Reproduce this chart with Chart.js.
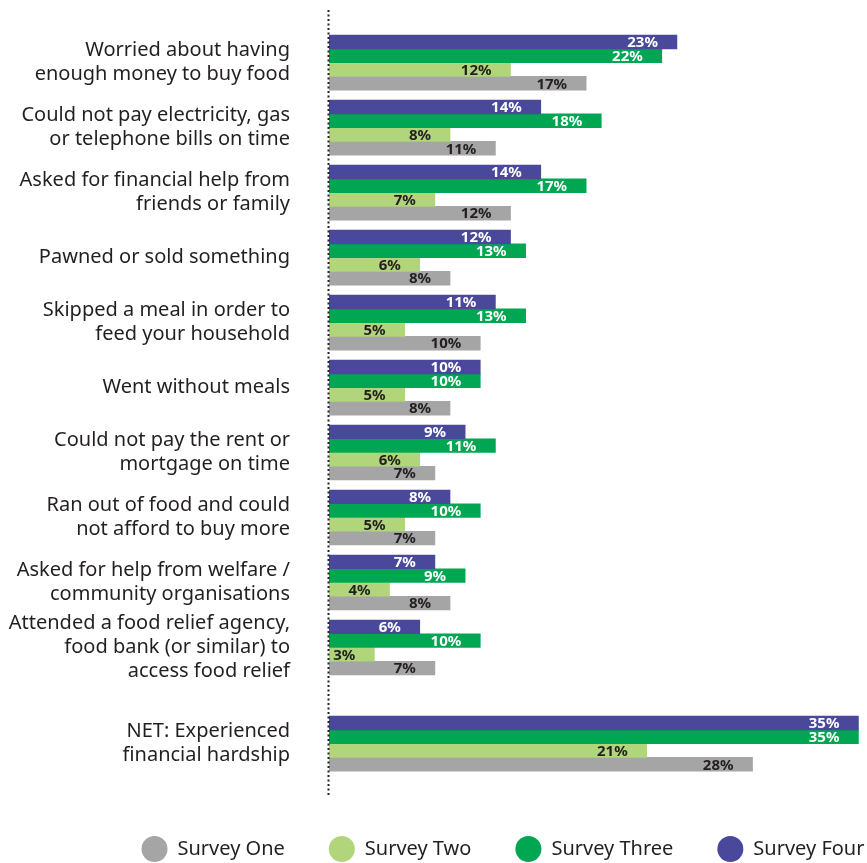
<!DOCTYPE html>
<html>
<head>
<meta charset="utf-8">
<style>
  html, body { margin: 0; padding: 0; background: #ffffff; }
  #wrap { width: 867px; height: 863px; position: relative; }
</style>
<script src="https://cdn.jsdelivr.net/npm/chart.js@4"></script>
</head>
<body>
<div id="wrap"><canvas id="chart"></canvas></div>
<script>
// Hardship indicators (each label split into its display lines)
const categories = [
  ["Worried about having", "enough money to buy food"],
  ["Could not pay electricity, gas", "or telephone bills on time"],
  ["Asked for financial help from", "friends or family"],
  ["Pawned or sold something"],
  ["Skipped a meal in order to", "feed your household"],
  ["Went without meals"],
  ["Could not pay the rent or", "mortgage on time"],
  ["Ran out of food and could", "not afford to buy more"],
  ["Asked for help from welfare /", "community organisations"],
  ["Attended a food relief agency,", "food bank (or similar) to", "access food relief"],
  ["NET: Experienced", "financial hardship"]
];

// Share of respondents (%) per survey wave
const surveyOne   = [17, 11, 12, 8, 10, 8, 7, 7, 8, 7, 28];
const surveyTwo   = [12, 8, 7, 6, 5, 5, 6, 5, 4, 3, 21];
const surveyThree = [22, 18, 17, 13, 13, 10, 11, 10, 9, 10, 35];
const surveyFour  = [23, 14, 14, 12, 11, 10, 9, 8, 7, 6, 35];

const seriesNames = ["Survey Four", "Survey Three", "Survey Two", "Survey One"];

// Row positions on the category axis; the NET row sits apart from the rest
const netGap = 0.48;
const rowPos = categories.map((c, i) => i === categories.length - 1 ? i + netGap : i);

const toPoints = arr => arr.map((v, i) => ({ x: v, y: rowPos[i] }));

const FONT = "'Noto Sans', sans-serif";
const INK = '#231f20';

// Value labels drawn just inside the end of each bar
const valueLabels = {
  id: 'valueLabels',
  afterDatasetsDraw(chart) {
    const ctx = chart.ctx;
    ctx.save();
    ctx.font = "bold 15px " + FONT;
    ctx.textAlign = 'right';
    ctx.textBaseline = 'middle';
    chart.data.datasets.forEach((ds, di) => {
      const meta = chart.getDatasetMeta(di);
      meta.data.forEach((bar, i) => {
        ctx.fillStyle = ds.labelColor;
        ctx.fillText(ds.data[i].x + '%', bar.x - 19, bar.y + 1);
      });
    });
    ctx.restore();
  }
};

// Dotted baseline at zero along the full height of the plot
const dottedBaseline = {
  id: 'dottedBaseline',
  afterDatasetsDraw(chart) {
    const { ctx, chartArea } = chart;
    const x0 = Math.round(chart.scales.x.getPixelForValue(0)) - 0.5;
    ctx.save();
    ctx.strokeStyle = INK;
    ctx.lineWidth = 2;
    ctx.setLineDash([2, 2.5]);
    ctx.beginPath();
    ctx.moveTo(x0, chartArea.top);
    ctx.lineTo(x0, chartArea.bottom);
    ctx.stroke();
    ctx.restore();
  }
};

// Legend row sits under the bars rather than the full canvas width
const legendOffset = {
  id: 'legendOffset',
  afterLayout(chart) {
    const lg = chart.legend;
    if (lg) { lg.left += 70; lg.right += 70; }
  }
};

new Chart(document.getElementById('chart'), {
  type: 'bar',
  data: {
    datasets: [
      { label: seriesNames[0], data: toPoints(surveyFour),  backgroundColor: '#4a489b', labelColor: '#ffffff' },
      { label: seriesNames[1], data: toPoints(surveyThree), backgroundColor: '#00a651', labelColor: '#ffffff' },
      { label: seriesNames[2], data: toPoints(surveyTwo),   backgroundColor: '#b0d57a', labelColor: INK },
      { label: seriesNames[3], data: toPoints(surveyOne),   backgroundColor: '#a5a5a5', labelColor: INK }
    ]
  },
  options: {
    indexAxis: 'y',
    responsive: true,
    maintainAspectRatio: false,
    animation: false,
    events: [],
    datasets: {
      bar: { barThickness: 13.75, borderWidth: 0, grouped: true }
    },
    layout: { padding: { top: 10, bottom: -6, left: 0, right: 1 } },
    scales: {
      x: {
        type: 'linear',
        display: false,
        min: 0,
        max: 35.5
      },
      y: {
        type: 'linear',
        reverse: true,
        offset: false,
        min: -0.81,
        max: 11.27,
        afterFit(scale) {
          scale.width = 329;
          scale.paddingTop = 0;
          scale.paddingBottom = 0;
        },
        afterBuildTicks(scale) {
          scale.ticks = rowPos.map(v => ({ value: v }));
        },
        grid: { display: false, drawTicks: false, offset: false },
        border: { display: false },
        ticks: {
          padding: 39,
          color: INK,
          font: { family: FONT, size: 20, lineHeight: 1.2 },
          autoSkip: false,
          callback(value) {
            const i = rowPos.indexOf(value);
            return i >= 0 ? categories[i] : '';
          }
        }
      }
    },
    plugins: {
      tooltip: { enabled: false },
      legend: {
        position: 'bottom',
        align: 'center',
        reverse: true,
        labels: {
          usePointStyle: true,
          pointStyle: 'circle',
          pointStyleWidth: 26,
          boxHeight: 18.4,
          padding: 44,
          color: INK,
          font: { family: FONT, size: 20 }
        }
      }
    }
  },
  plugins: [valueLabels, dottedBaseline, legendOffset]
});
</script>
</body>
</html>
